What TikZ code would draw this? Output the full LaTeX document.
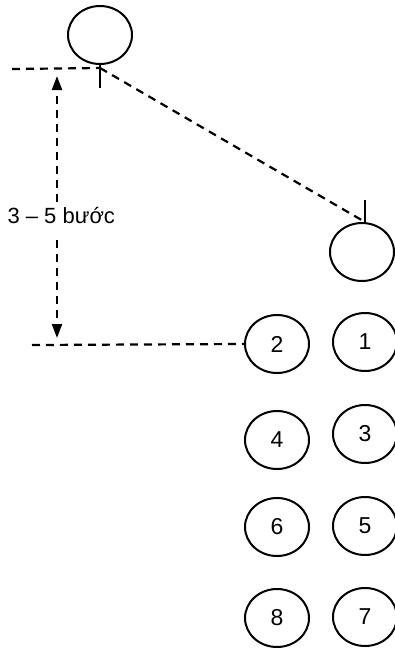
\documentclass[tikz,border=0pt]{standalone}
\usepackage{fontspec}
\setmainfont{Liberation Sans}
\usetikzlibrary{shapes.geometric,arrows.meta}
\tikzset{
  player/.style={draw, ellipse, line width=2pt, minimum width=64pt, minimum height=58pt, inner sep=0pt, font=\fontsize{23}{25}\selectfont},
  guide/.style={line width=2.2pt, dash pattern=on 8pt off 6pt},
  tick/.style={line width=2.2pt},
  measure/.style={guide, -{Triangle[length=14pt,width=10pt]}}
}
\begin{document}
\begin{tikzpicture}[x=1pt,y=1pt]
\useasboundingbox (0,0) rectangle (395,-649);
% players
\node[player] (top) at (100,-35) {};
\node[player] (mid) at (362,-252) {};
\node[player] (p2) at (277,-344) {2};
\node[player] (p1) at (365,-342) {1};
\node[player] (p4) at (277,-440) {4};
\node[player] (p3) at (365,-434) {3};
\node[player] (p6) at (277,-527) {6};
\node[player] (p5) at (365,-526) {5};
\node[player] (p8) at (277,-618) {8};
\node[player] (p7) at (365,-617) {7};
% ticks
\coordinate (topfoot) at (100,-88);
\coordinate (midhead) at (365,-200);
\coordinate (midbase) at (365,-222);
\draw[tick] (top.south) -- (topfoot);
\draw[tick] (midhead) -- (midbase);
% guide lines
\coordinate (topleft) at (12,-69);
\coordinate (topjoin) at (100,-68);
\coordinate (lowleft) at (32,-345);
\draw[guide] (topleft) -- (topjoin);
\draw[guide] (topjoin) -- (midbase);
\draw[guide] (lowleft) -- (p2.west);
% measurement
\node[font=\fontsize{22}{24}\selectfont, anchor=west] (lbl) at (4,-216) {3 – 5 bước};
\coordinate (armtop) at (57,-76);
\coordinate (armtopend) at (57,-202);
\coordinate (armbot) at (57,-338);
\coordinate (armbotstart) at (57,-240);
\draw[measure] (armtopend) -- (armtop);
\draw[measure] (armbotstart) -- (armbot);
\end{tikzpicture}
\end{document}
